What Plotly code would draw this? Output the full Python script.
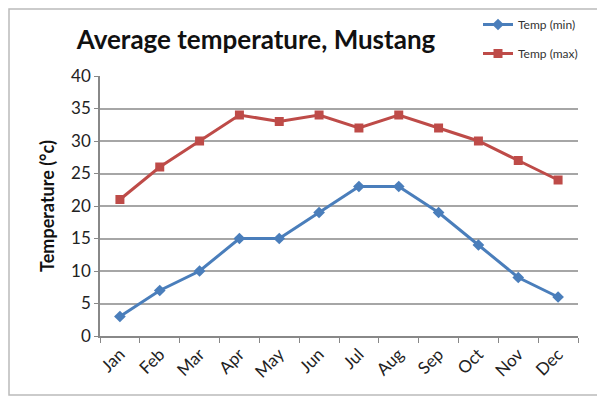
import plotly.graph_objects as go

months = ["Jan", "Feb", "Mar", "Apr", "May", "Jun", "Jul", "Aug", "Sep", "Oct", "Nov", "Dec"]
temp_min = [3, 7, 10, 15, 15, 19, 23, 23, 19, 14, 9, 6]
temp_max = [21, 26, 30, 34, 33, 34, 32, 34, 32, 30, 27, 24]

FONT = "Lato, 'Open Sans', sans-serif"

# page has an 8px body margin; figure sized/positioned to compensate
W, H = 597, 397
ML, MR, MT, MB = 92, 27, 68, 69
PW, PH = W - ML - MR, H - MT - MB

fig = go.Figure()
fig.add_trace(go.Scatter(
    x=months, y=temp_min, name="Temp (min)", mode="lines+markers",
    line=dict(color="#4a7ebb", width=3),
    marker=dict(symbol="diamond", size=9, color="#4a7ebb"),
    legendgroup="a",
))
fig.add_trace(go.Scatter(
    x=months, y=temp_max, name="Temp (max)", mode="lines+markers",
    line=dict(color="#be4b48", width=3),
    marker=dict(symbol="square", size=9, color="#be4b48"),
    legendgroup="b",
))

fig.update_layout(
    width=W, height=H,
    margin=dict(l=ML, r=MR, t=MT, b=MB, autoexpand=False),
    paper_bgcolor="white", plot_bgcolor="white",
    font=dict(family=FONT, color="#222"),
    title=dict(text="<b>Average temperature, Mustang</b>", x=248 / W, xref="container",
               y=1 - 32 / H, yanchor="middle", xanchor="center",
               font=dict(size=26, family=FONT, color="#111")),
    showlegend=True,
    legend=dict(x=470 / W, xref="container", xanchor="left", y=1 - 2 / H, yref="container", yanchor="top",
                font=dict(size=12, color="#333"), tracegroupgap=10,
                bgcolor="rgba(0,0,0,0)", itemwidth=30),
    xaxis=dict(type="category", showline=True, linecolor="#888", linewidth=1.5,
               ticks="outside", tickson="boundaries", ticklen=5, tickcolor="#888",
               tickangle=-45, tickfont=dict(size=17, family=FONT, color="#222"),
               showgrid=False, range=[-0.5, 11.5]),
    yaxis=dict(range=[0, 40], dtick=5, showline=True, linecolor="#888", linewidth=1.5,
               ticks="outside", ticklen=4, tickcolor="#888",
               gridcolor="#a6a6a6", gridwidth=1.5, zeroline=False,
               tickfont=dict(size=17, family=FONT, color="#222"),
               title=dict(text="<b>Temperature (°c)</b>", font=dict(size=18, family=FONT, color="#111"),
                          standoff=12)),
    shapes=[dict(type="rect", xref="paper", yref="paper",
                 x0=(1 - ML) / PW, x1=(593 - ML) / PW,
                 y0=-(387 - (H - MB)) / PH, y1=(H - MB - 1) / PH,
                 line=dict(color="#bbbbbb", width=1.5), layer="below")],
)

fig.write_html("out.html")
